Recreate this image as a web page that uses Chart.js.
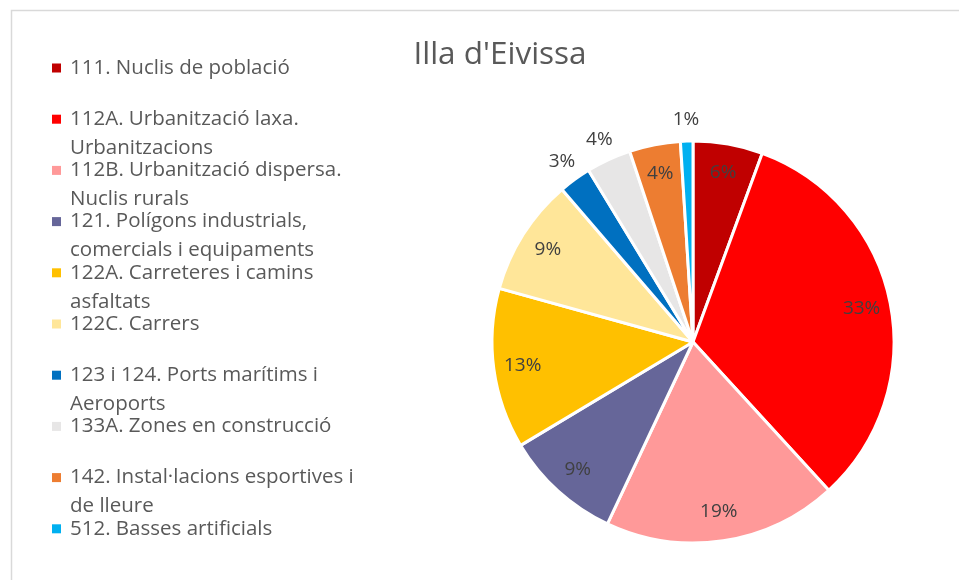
<!DOCTYPE html>
<html>
<head>
<meta charset="utf-8">
<script src="https://cdn.jsdelivr.net/npm/chart.js@4.4.1/dist/chart.umd.min.js"></script>
<style>
  html, body { margin: 0; padding: 0; background: #fff; }
</style>
</head>
<body>
<canvas id="chart" width="959" height="580"></canvas>
<script>
const chartTitle = "Illa d'Eivissa";

// legend labels, already split into the lines they wrap to
const categories = [
  ["111. Nuclis de població"],
  ["112A. Urbanització laxa.", "Urbanitzacions"],
  ["112B. Urbanització dispersa.", "Nuclis rurals"],
  ["121. Polígons industrials,", "comercials i equipaments"],
  ["122A. Carreteres i camins", "asfaltats"],
  ["122C. Carrers"],
  ["123 i 124. Ports marítims i", "Aeroports"],
  ["133A. Zones en construcció"],
  ["142. Instal·lacions esportives i", "de lleure"],
  ["512. Basses artificials"]
];

// share of the island surface (%)
const shares = [5.6, 32.6, 18.8, 9.4, 12.9, 9.4, 2.6, 3.6, 4.1, 1.0];

const sliceColors = [
  "#C00000", "#FF0000", "#FF9999", "#666699", "#FFC000",
  "#FFE699", "#0070C0", "#E7E6E6", "#ED7D31", "#00B0F0"
];

// slices whose label sits outside the pie
const outsideLabels = [6, 7, 9];

const FONT = "'Open Sans', Lato, sans-serif";

const frame = {
  id: "frame",
  beforeDraw(chart) {
    const ctx = chart.ctx;
    ctx.save();
    ctx.fillStyle = "#fff";
    ctx.fillRect(0, 0, chart.width, chart.height);
    ctx.strokeStyle = "#d9d9d9";
    ctx.lineWidth = 1.5;
    ctx.strokeRect(11.5, 10.5, 2000, 2000);
    // title
    ctx.fillStyle = "#595959";
    ctx.font = "31.5px " + FONT;
    ctx.textAlign = "center";
    ctx.textBaseline = "middle";
    ctx.fillText(chartTitle, 500, 55);
    ctx.restore();
  }
};

const sideLegend = {
  id: "sideLegend",
  afterDraw(chart) {
    const ctx = chart.ctx;
    ctx.save();
    ctx.font = "20.5px " + FONT;
    ctx.textBaseline = "middle";
    ctx.textAlign = "left";
    categories.forEach((lines, i) => {
      const y = 68 + i * 51.2;
      ctx.fillStyle = sliceColors[i];
      ctx.fillRect(52, y - 4.5, 9, 9);
      ctx.fillStyle = "#595959";
      lines.forEach((line, k) => {
        ctx.fillText(line, 70, y + k * 29);
      });
    });
    ctx.restore();
  }
};

const pctLabels = {
  id: "pctLabels",
  afterDatasetsDraw(chart) {
    const ctx = chart.ctx;
    const meta = chart.getDatasetMeta(0);
    const data = chart.data.datasets[0].data;
    const total = data.reduce((a, b) => a + b, 0);
    ctx.save();
    ctx.font = "19px " + FONT;
    ctx.fillStyle = "#404040";
    ctx.textAlign = "center";
    ctx.textBaseline = "middle";
    meta.data.forEach((arc, i) => {
      const p = arc.getProps(["x", "y", "startAngle", "endAngle", "outerRadius"], true);
      const mid = (p.startAngle + p.endAngle) / 2;
      const r = outsideLabels.includes(i) ? p.outerRadius + 22 : p.outerRadius * 0.855;
      const txt = Math.round(data[i] / total * 100) + "%";
      ctx.fillText(txt, p.x + Math.cos(mid) * r, p.y + Math.sin(mid) * r);
    });
    ctx.restore();
  }
};

new Chart(document.getElementById("chart"), {
  type: "pie",
  data: {
    labels: categories.map(l => l.join(" ")),
    datasets: [{
      data: shares,
      backgroundColor: sliceColors,
      borderColor: "#ffffff",
      borderWidth: 3
    }]
  },
  options: {
    responsive: false,
    animation: false,
    radius: 201,
    layout: {
      padding: { left: 493, right: 66, top: 142, bottom: 38 }
    },
    plugins: {
      legend: { display: false },
      title: { display: false },
      tooltip: { enabled: false }
    }
  },
  plugins: [frame, sideLegend, pctLabels]
});
</script>
</body>
</html>
